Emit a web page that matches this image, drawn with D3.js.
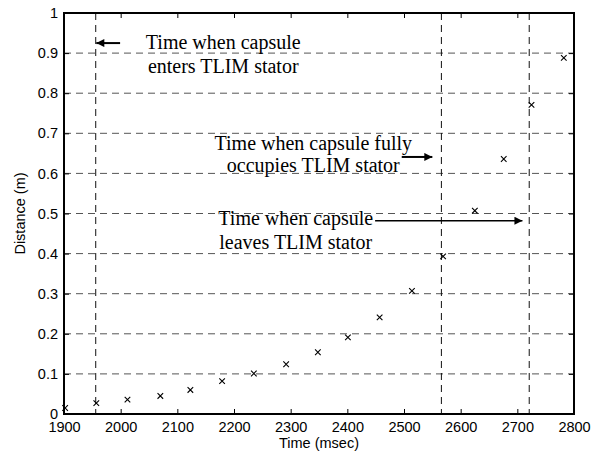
<!DOCTYPE html>
<html lang="en">
<head>
<meta charset="utf-8">
<title>Capsule distance vs time</title>
<script src="https://d3js.org/d3.v7.min.js"></script>
<style>
  body { margin: 0; background: #fff; }
  .tick text { font-family: Arial, "Liberation Sans", sans-serif; font-size: 14.5px; fill: #000; }
  .note { font-family: "Times New Roman", "Liberation Serif", serif; font-size: 20px; fill: #000; }
</style>
</head>
<body>
<script>
// measured points (time in msec, distance in m)
var times = [1902, 1957, 2012, 2070, 2123, 2179, 2235, 2292, 2348, 2401, 2457, 2514, 2569, 2625, 2676, 2725, 2782];
var dists = [0.015, 0.027, 0.036, 0.045, 0.060, 0.082, 0.101, 0.124, 0.154, 0.191, 0.241, 0.307, 0.393, 0.507, 0.636, 0.771, 0.888];

// event times (vertical dashed lines)
var eventTimes = [1956, 2566, 2721];

var xTicks = [1900, 2000, 2100, 2200, 2300, 2400, 2500, 2600, 2700, 2800];
var yTicks = [0, 0.1, 0.2, 0.3, 0.4, 0.5, 0.6, 0.7, 0.8, 0.9, 1];

// annotations: lines of text, centre x and baselines in data units
var notes = [
  { lines: ["Time when capsule", "enters TLIM stator"], x: 2181, y: [0.910, 0.851] },
  { lines: ["Time when capsule fully", "occupies TLIM stator"], x: 2340, y: [0.658, 0.604] },
  { lines: ["Time when capsule", "leaves TLIM stator"], x: 2309, y: [0.471, 0.411] }
];
var arrows = [
  { x1: 1999, x2: 1957, y: 0.925, w: 2 },
  { x1: 2496, x2: 2550, y: 0.641, w: 2 },
  { x1: 2449, x2: 2709, y: 0.482, w: 1.6 }
];

var W = 601, H = 459;
var pL = 64, pR = 574, pT = 13, pB = 414;

var svg = d3.select("body").append("svg").attr("width", W).attr("height", H);

var x = d3.scaleLinear().domain([1900, 2800]).range([pL, pR]);
var y = d3.scaleLinear().domain([0, 1]).range([pB, pT]);

svg.append("defs").append("marker")
  .attr("id", "head")
  .attr("viewBox", "0 0 10 10")
  .attr("refX", 10).attr("refY", 5)
  .attr("markerUnits", "userSpaceOnUse")
  .attr("markerWidth", 11).attr("markerHeight", 8)
  .attr("orient", "auto")
  .append("path").attr("d", "M0,0 L10,5 L0,10 Z").attr("fill", "#000");

// horizontal grid
svg.append("g").selectAll("line")
  .data(yTicks.slice(1, -1))
  .enter().append("line")
  .attr("x1", pL).attr("x2", pR)
  .attr("y1", function(d) { return y(d); })
  .attr("y2", function(d) { return y(d); })
  .attr("stroke", "#555")
  .attr("stroke-width", 1)
  .attr("stroke-dasharray", "7,5");

// event lines
svg.append("g").selectAll("line")
  .data(eventTimes)
  .enter().append("line")
  .attr("x1", function(d) { return x(d); })
  .attr("x2", function(d) { return x(d); })
  .attr("y1", pT).attr("y2", pB)
  .attr("stroke", "#111")
  .attr("stroke-width", 1)
  .attr("stroke-dasharray", "7,5");

// axes, ticks pointing inwards
svg.append("g").attr("transform", "translate(0," + pB + ")")
  .call(d3.axisBottom(x).tickValues(xTicks).tickSize(-5).tickPadding(8).tickFormat(d3.format("d")));
svg.append("g").attr("transform", "translate(" + pL + ",0)")
  .call(d3.axisLeft(y).tickValues(yTicks).tickSize(-5).tickPadding(6).tickFormat(function(d) { return d === 0 || d === 1 ? d : d3.format(".1f")(d); }));
svg.append("g").attr("transform", "translate(0," + pT + ")")
  .call(d3.axisTop(x).tickValues(xTicks).tickSize(-5).tickFormat(""));
svg.append("g").attr("transform", "translate(" + pR + ",0)")
  .call(d3.axisRight(y).tickValues(yTicks).tickSize(-5).tickFormat(""));

svg.selectAll(".domain").remove();
svg.selectAll(".tick line").attr("stroke", "#000");
svg.append("rect")
  .attr("x", pL).attr("y", pT)
  .attr("width", pR - pL).attr("height", pB - pT)
  .attr("fill", "none").attr("stroke", "#000").attr("stroke-width", 2);

// axis titles
svg.append("text")
  .attr("x", (pL + pR) / 2).attr("y", 448)
  .attr("text-anchor", "middle")
  .attr("font-family", "Arial, 'Liberation Sans', sans-serif")
  .attr("font-size", "14.5px")
  .text("Time (msec)");
svg.append("text")
  .attr("transform", "translate(25," + ((pT + pB) / 2) + ") rotate(-90)")
  .attr("text-anchor", "middle")
  .attr("font-family", "Arial, 'Liberation Sans', sans-serif")
  .attr("font-size", "14.5px")
  .text("Distance (m)");

// x markers
var s = 2.8;
svg.append("g").selectAll("path")
  .data(times)
  .enter().append("path")
  .attr("d", function(d, i) {
    var cx = x(d), cy = y(dists[i]);
    return "M" + (cx - s) + "," + (cy - s) + "L" + (cx + s) + "," + (cy + s) +
           "M" + (cx - s) + "," + (cy + s) + "L" + (cx + s) + "," + (cy - s);
  })
  .attr("stroke", "#000")
  .attr("stroke-width", 1.1)
  .attr("fill", "none");

// annotations
notes.forEach(function(n) {
  n.lines.forEach(function(t, j) {
    svg.append("text").attr("class", "note")
      .attr("x", x(n.x)).attr("y", y(n.y[j]))
      .attr("text-anchor", "middle")
      .text(t);
  });
});

svg.append("g").selectAll("line")
  .data(arrows)
  .enter().append("line")
  .attr("x1", function(d) { return x(d.x1); })
  .attr("x2", function(d) { return x(d.x2); })
  .attr("y1", function(d) { return y(d.y); })
  .attr("y2", function(d) { return y(d.y); })
  .attr("stroke", "#000")
  .attr("stroke-width", function(d) { return d.w; })
  .attr("marker-end", "url(#head)");
</script>
</body>
</html>
